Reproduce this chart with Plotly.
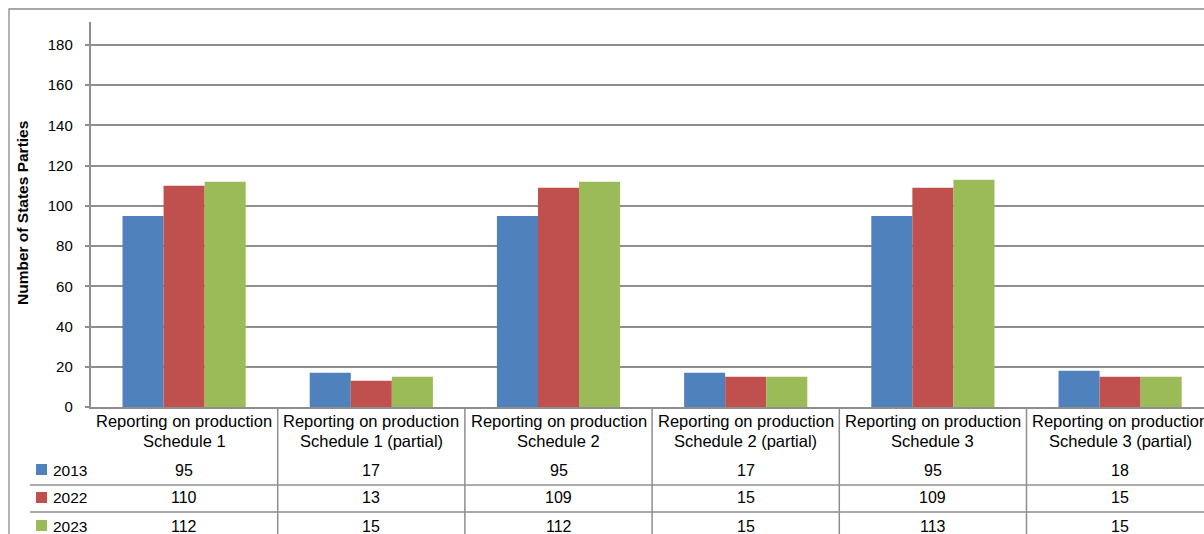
import plotly.graph_objects as go

# Categories and series values
categories = [
    "Reporting on production<br>Schedule 1",
    "Reporting on production<br>Schedule 1 (partial)",
    "Reporting on production<br>Schedule 2",
    "Reporting on production<br>Schedule 2 (partial)",
    "Reporting on production<br>Schedule 3",
    "Reporting on production<br>Schedule 3 (partial)",
]
years = ["2013", "2022", "2023"]
values_2013 = [95, 17, 95, 17, 95, 18]
values_2022 = [110, 13, 109, 15, 109, 15]
values_2023 = [112, 15, 112, 15, 113, 15]
y_ticks = [0, 20, 40, 60, 80, 100, 120, 140, 160, 180]

series = [values_2013, values_2022, values_2023]
colors = ["#4F81BD", "#C0504D", "#9BBB59"]

W, H = 1204, 534
FIG_H = 542
FONT = "Liberation Sans"
GRID = "#8e8e8e"


def px(x):
    return x / W


def py(y):
    return 1 - y / H


# Plot area geometry (pixels)
left, top, bottom = 90.5, 22, 407
cat_w = 187.2
x_max = -0.5 + (W - left) / cat_w

fig = go.Figure()
idx = list(range(len(categories)))
for name, vals, col in zip(years, series, colors):
    fig.add_trace(go.Bar(x=idx, y=vals, name=name, marker=dict(color=col, line=dict(width=0)),
                         showlegend=False, hoverinfo="skip"))

shapes = []
annotations = []

# Outer chart border
shapes.append(dict(type="path", xref="paper", yref="paper",
                   path=f"M {px(9)} {py(H + 20)} L {px(9)} {py(9)} L {px(W + 5)} {py(9)}",
                   line=dict(color="#8a8a8a", width=1.3)))

# Data table grid: vertical separators between categories
for i in range(len(categories)):
    xb = i + 0.5
    if xb < x_max:
        shapes.append(dict(type="line", xref="x", yref="paper", x0=xb, x1=xb,
                           y0=py(bottom), y1=py(H + 20), line=dict(color=GRID, width=1.5)))
# Horizontal row separators
for yline in (485, 512):
    shapes.append(dict(type="line", xref="paper", yref="paper", x0=px(30), x1=px(W + 5),
                       y0=py(yline), y1=py(yline), line=dict(color=GRID, width=1.5)))

# Category headers
for i, c in enumerate(categories):
    line1, line2 = c.split("<br>")
    for txt, yy in ((line1, 421), (line2, 441)):
        annotations.append(dict(x=i, y=py(yy), xref="x", yref="paper", text=txt,
                                showarrow=False, xanchor="center", yanchor="middle",
                                font=dict(family=FONT, size=16.5, color="#000")))

# Value rows with legend keys
row_y = [470, 498, 526]
for name, vals, col, yy in zip(years, series, colors, row_y):
    shapes.append(dict(type="rect", xref="paper", yref="paper",
                       x0=px(36), x1=px(47), y0=py(yy + 5), y1=py(yy - 6),
                       fillcolor=col, line=dict(width=0)))
    annotations.append(dict(x=px(51), y=py(yy), xref="paper", yref="paper", text=name,
                            showarrow=False, xanchor="left", yanchor="middle",
                            font=dict(family=FONT, size=15.5, color="#000")))
    for i, v in enumerate(vals):
        annotations.append(dict(x=i, y=py(yy), xref="x", yref="paper", text=str(v),
                                showarrow=False, xanchor="center", yanchor="middle",
                                font=dict(family=FONT, size=16, color="#000")))

# Y axis title
annotations.append(dict(x=px(22), y=py(213), xref="paper", yref="paper",
                        text="<b>Number of States Parties</b>", textangle=-90,
                        showarrow=False, xanchor="center", yanchor="middle",
                        font=dict(family=FONT, size=15.5, color="#000")))

fig.update_layout(
    width=W, height=FIG_H,
    margin=dict(l=0, r=0, t=0, b=0),
    paper_bgcolor="white", plot_bgcolor="white",
    barmode="group", bargap=0.342, bargroupgap=0,
    shapes=shapes, annotations=annotations,
    xaxis=dict(domain=[px(left), 1], range=[-0.5, x_max], showticklabels=False,
               showgrid=False, zeroline=False, showline=True, linecolor=GRID,
               linewidth=1.5, ticks=""),
    yaxis=dict(domain=[py(bottom), py(top)], range=[0, 191.4], tickvals=y_ticks,
               showgrid=True, gridcolor=GRID, gridwidth=1.5, zeroline=False,
               showline=True, linecolor=GRID, linewidth=1.5, ticks="outside",
               ticklen=4, tickcolor=GRID, tickwidth=1.5, ticklabelstandoff=9,
               tickfont=dict(family=FONT, size=15, color="#000")),
)

fig.write_html("out.html", post_script="document.body.style.margin='0';")
